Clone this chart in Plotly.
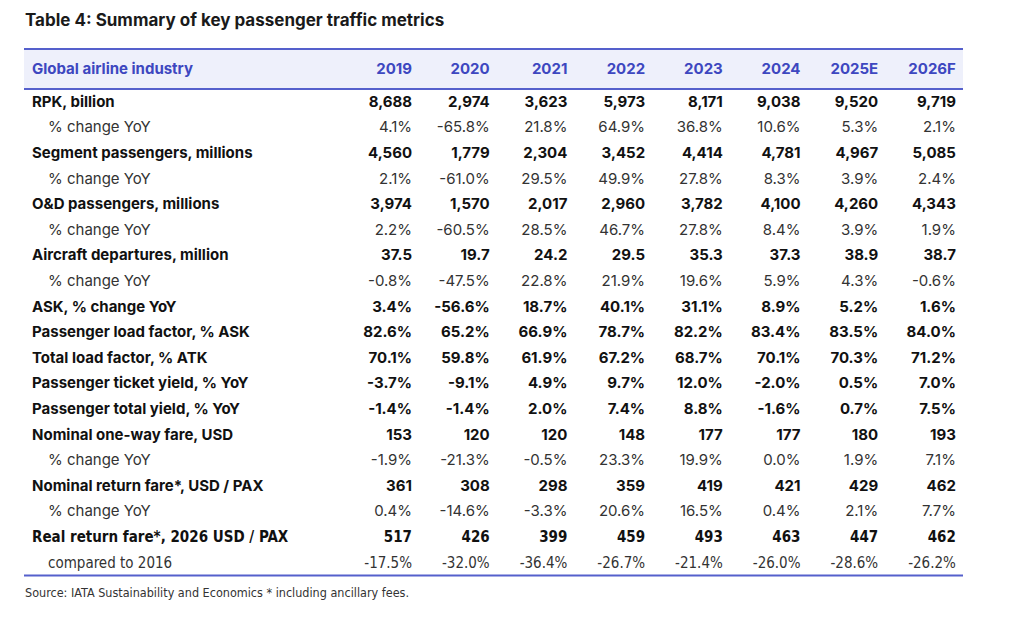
import plotly.graph_objects as go

# ---------------- data ----------------
years = ["2019", "2020", "2021", "2022", "2023", "2024", "2025E", "2026F"]
header_label = "Global airline industry"

rpk_bn = [8688, 2974, 3623, 5973, 8171, 9038, 9520, 9719]
rpk_yoy = [4.1, -65.8, 21.8, 64.9, 36.8, 10.6, 5.3, 2.1]
seg_pax_mn = [4560, 1779, 2304, 3452, 4414, 4781, 4967, 5085]
seg_pax_yoy = [2.1, -61.0, 29.5, 49.9, 27.8, 8.3, 3.9, 2.4]
od_pax_mn = [3974, 1570, 2017, 2960, 3782, 4100, 4260, 4343]
od_pax_yoy = [2.2, -60.5, 28.5, 46.7, 27.8, 8.4, 3.9, 1.9]
departures_mn = [37.5, 19.7, 24.2, 29.5, 35.3, 37.3, 38.9, 38.7]
departures_yoy = [-0.8, -47.5, 22.8, 21.9, 19.6, 5.9, 4.3, -0.6]
ask_yoy = [3.4, -56.6, 18.7, 40.1, 31.1, 8.9, 5.2, 1.6]
pax_load_factor = [82.6, 65.2, 66.9, 78.7, 82.2, 83.4, 83.5, 84.0]
total_load_factor = [70.1, 59.8, 61.9, 67.2, 68.7, 70.1, 70.3, 71.2]
ticket_yield_yoy = [-3.7, -9.1, 4.9, 9.7, 12.0, -2.0, 0.5, 7.0]
total_yield_yoy = [-1.4, -1.4, 2.0, 7.4, 8.8, -1.6, 0.7, 7.5]
oneway_fare = [153, 120, 120, 148, 177, 177, 180, 193]
oneway_fare_yoy = [-1.9, -21.3, -0.5, 23.3, 19.9, 0.0, 1.9, 7.1]
return_fare = [361, 308, 298, 359, 419, 421, 429, 462]
return_fare_yoy = [0.4, -14.6, -3.3, 20.6, 16.5, 0.4, 2.1, 7.7]
real_return_fare = [517, 426, 399, 459, 493, 463, 447, 462]
real_vs_2016 = [-17.5, -32.0, -36.4, -26.7, -21.4, -26.0, -28.6, -26.2]

# (label, values, format, is_main_row)
rows = [
    ("RPK, billion", rpk_bn, "int", True),
    ("% change YoY", rpk_yoy, "pct", False),
    ("Segment passengers, millions", seg_pax_mn, "int", True),
    ("% change YoY", seg_pax_yoy, "pct", False),
    ("O&D passengers, millions", od_pax_mn, "int", True),
    ("% change YoY", od_pax_yoy, "pct", False),
    ("Aircraft departures, million", departures_mn, "dec", True),
    ("% change YoY", departures_yoy, "pct", False),
    ("ASK, % change YoY", ask_yoy, "pct", True),
    ("Passenger load factor, % ASK", pax_load_factor, "pct", True),
    ("Total load factor, % ATK", total_load_factor, "pct", True),
    ("Passenger ticket yield, % YoY", ticket_yield_yoy, "pct", True),
    ("Passenger total yield, % YoY", total_yield_yoy, "pct", True),
    ("Nominal one-way fare, USD", oneway_fare, "int", True),
    ("% change YoY", oneway_fare_yoy, "pct", False),
    ("Nominal return fare*, USD / PAX", return_fare, "int", True),
    ("% change YoY", return_fare_yoy, "pct", False),
    ("Real return fare*, 2026 USD / PAX", real_return_fare, "int", True),
    ("compared to 2016", real_vs_2016, "pct", False),
]
condensed_rows = {17, 18}

# ---------------- layout constants (reference pixel space) ----------------
PAGE_OFF = 8                       # browser body margin
W, H = 1024 - 2 * PAGE_OFF, 623 - 2 * PAGE_OFF
X0, X1 = 24, 963                   # table left / right
T_TOP, HDR_BOT = 49, 89
ROW0, ROW_H = 103, 25.6
HDR_Y = 70.5
LABEL_X, SUB_X = 32, 48
COL_RIGHT0, COL_STEP = 412, 77.7

BLUE_LINE = "#5560cc"
BLUE_TXT = "#3d47c0"
HDR_FILL = "#eef0fb"
MAIN_FONT = "Inter, Roboto, Arial, sans-serif"
COND_FONT = "'Liberation Sans Narrow', 'DejaVu Sans Condensed', 'Roboto Condensed', Roboto, sans-serif"
MAIN_COLOR = "#111111"
SUB_COLOR = "#333333"
FS = 15


def fmt(v, kind):
    if kind == "int":
        return f"{v:,}"
    if kind == "dec":
        return f"{v:.1f}"
    return f"{v:.1f}%"


fig = go.Figure()

# header
fig.add_trace(go.Scatter(
    x=[LABEL_X], y=[HDR_Y], mode="text", text=[f"<b>{header_label}</b>"],
    textposition="middle right", textfont=dict(family=MAIN_FONT, size=FS, color=BLUE_TXT),
    hoverinfo="skip", showlegend=False))
fig.add_trace(go.Scatter(
    x=[COL_RIGHT0 + j * COL_STEP for j in range(len(years))], y=[HDR_Y] * len(years),
    mode="text", text=[f"<b>{y}</b>" for y in years],
    textposition="middle left", textfont=dict(family=MAIN_FONT, size=FS, color=BLUE_TXT),
    hoverinfo="skip", showlegend=False))

# body rows
for i, (lab, vals, kind, main) in enumerate(rows):
    y = ROW0 + i * ROW_H
    fam = COND_FONT if i in condensed_rows else MAIN_FONT
    col = MAIN_COLOR if main else SUB_COLOR
    wrap = (lambda s: f"<b>{s}</b>") if main else (lambda s: s)
    fig.add_trace(go.Scatter(
        x=[LABEL_X if main else SUB_X], y=[y], mode="text", text=[wrap(lab)],
        textposition="middle right", textfont=dict(family=fam, size=FS, color=col),
        hoverinfo="skip", showlegend=False))
    fig.add_trace(go.Scatter(
        x=[COL_RIGHT0 + j * COL_STEP for j in range(len(vals))], y=[y] * len(vals),
        mode="text", text=[wrap(fmt(v, kind)) for v in vals],
        textposition="middle left", textfont=dict(family=fam, size=FS, color=col),
        hoverinfo="skip", showlegend=False))

# header band and rules
bottom = ROW0 + (len(rows) - 0.5) * ROW_H - 1
fig.add_shape(type="rect", xref="x", yref="y", x0=X0, x1=X1, y0=T_TOP, y1=HDR_BOT,
              fillcolor=HDR_FILL, line_width=0, layer="below")
for yy in (T_TOP, HDR_BOT, bottom):
    fig.add_shape(type="line", xref="x", yref="y", x0=X0, x1=X1, y0=yy, y1=yy,
                  line=dict(color=BLUE_LINE, width=2))

fig.add_annotation(text="<b>Table 4: Summary of key passenger traffic metrics</b>",
                   xref="x", yref="y", x=23, y=20, xanchor="left", yanchor="middle",
                   showarrow=False, font=dict(family=MAIN_FONT, size=17, color="#1a1a1a"))
fig.add_annotation(text="Source: IATA Sustainability and Economics * including ancillary fees.",
                   xref="x", yref="y", x=23, y=592, xanchor="left", yanchor="middle",
                   showarrow=False, font=dict(family=COND_FONT, size=12.5, color="#333333"))

fig.update_xaxes(range=[PAGE_OFF, PAGE_OFF + W], visible=False, fixedrange=True)
fig.update_yaxes(range=[PAGE_OFF + H, PAGE_OFF], visible=False, fixedrange=True)
fig.update_layout(width=W, height=H, margin=dict(l=0, r=0, t=0, b=0),
                  paper_bgcolor="white", plot_bgcolor="white")

fig.write_html("out.html")
